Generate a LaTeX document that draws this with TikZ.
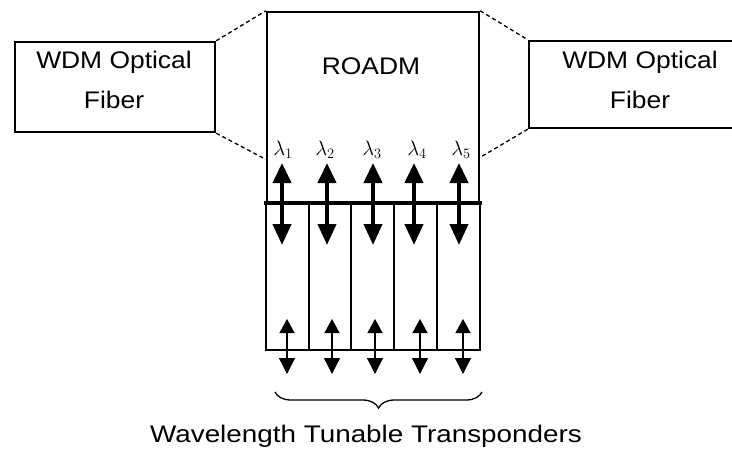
\documentclass[tikz,border=0pt]{standalone}
\usepackage{fontspec}
\setmainfont{Liberation Sans}
\usetikzlibrary{arrows.meta,decorations.pathreplacing}
\tikzset{
  boxed/.style={draw=black, line width=2.4pt, inner sep=0pt, rectangle},
  lbl/.style={font=\fontsize{24}{27}\selectfont, inner sep=0pt},
  lam/.style={font=\fontsize{22}{24}\selectfont, inner sep=0pt},
  link/.style={line width=1.3pt, dash pattern=on 4pt off 3pt},
  bigarrow/.style={line width=4pt, {Triangle[width=18pt,length=20pt]}-{Triangle[width=18pt,length=21pt]}},
  smallarrow/.style={line width=1.2pt, {Triangle[width=15pt,length=14pt]}-{Triangle[width=16pt,length=16pt]}},
}
\begin{document}
\begin{tikzpicture}[x=1pt,y=-1pt]
\useasboundingbox (0,0) rectangle (732,450);
% WDM boxes
\node[boxed, minimum width=200pt, minimum height=90pt] (wdmL) at (115,87) {};
\node[lbl] (wdmLt1) at (114,62) {\scalebox{1.1}[1]{WDM Optical}};
\node[lbl] (wdmLt2) at (114,100) {\scalebox{1.1}[1]{Fiber}};
\node[boxed, minimum width=205pt, minimum height=87pt] (wdmR) at (631.5,84.5) {};
\node[lbl] (wdmRt1) at (640,62) {\scalebox{1.1}[1]{WDM Optical}};
\node[lbl] (wdmRt2) at (640,100) {\scalebox{1.1}[1]{Fiber}};
% ROADM box
\node[boxed, minimum width=212pt, minimum height=191pt] (roadm) at (373,107.5) {};
\node[lbl] (roadmt) at (371,66) {\scalebox{1.1}[1]{ROADM}};
% dashed links
\coordinate (rl) at (267,160);
\coordinate (rr) at (479,158);
\draw[link] (wdmL.north east) -- (roadm.north west);
\draw[link] (wdmL.south east) -- (rl);
\draw[link] (roadm.north east) -- (wdmR.north west);
\draw[link] (wdmR.south west) -- (rr);
% transponders
\node[boxed, minimum width=43pt, minimum height=147pt] (t1) at (287.5,276.5) {};
\node[boxed, minimum width=42pt, minimum height=147pt] (t2) at (330,276.5) {};
\node[boxed, minimum width=43pt, minimum height=147pt] (t3) at (372.5,276.5) {};
\node[boxed, minimum width=43pt, minimum height=147pt] (t4) at (415.5,276.5) {};
\node[boxed, minimum width=43pt, minimum height=147pt] (t5) at (458.5,276.5) {};
% bar
\coordinate (barL) at (264,203);
\coordinate (barR) at (482,203);
\draw[line width=4.5pt] (barL) -- (barR);
% lambdas
\node[lam] (l1) at (283,150) {$\lambda_1$};
\node[lam] (l2) at (325,150) {$\lambda_2$};
\node[lam] (l3) at (372,150) {$\lambda_3$};
\node[lam] (l4) at (417,150) {$\lambda_4$};
\node[lam] (l5) at (461,150) {$\lambda_5$};
% big arrows
\foreach \i/\x in {1/282,2/327,3/373,4/414,5/459}{
  \coordinate (au\i) at (\x,163);
  \coordinate (ad\i) at (\x,245);
  \draw[bigarrow] (au\i) -- (ad\i);
}
% small arrows
\foreach \i/\x in {1/287,2/332,3/375,4/420,5/463}{
  \coordinate (su\i) at (\x,319);
  \coordinate (sd\i) at (\x,374);
  \draw[smallarrow] (su\i) -- (sd\i);
}
% brace
\coordinate (brR) at (482,392);
\coordinate (brL) at (275,392);
\draw[line width=1.3pt, decorate, decoration={brace, amplitude=16pt}] (brR) -- (brL);
\node[lbl] (cap) at (366,436) {\scalebox{1.16}[1]{Wavelength Tunable Transponders}};
\end{tikzpicture}
\end{document}
